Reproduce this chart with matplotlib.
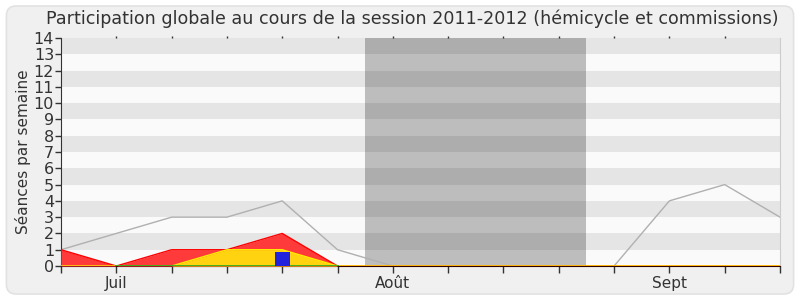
import matplotlib
matplotlib.use("Agg")
import matplotlib.pyplot as plt
from matplotlib.patches import FancyBboxPatch

weeks = list(range(14))
total = [1, 2, 3, 3, 4, 1, 0, 0, 0, 0, 0, 4, 5, 3]
red = [1, 0, 1, 1, 2, 0, 0, 0, 0, 0, 0, 0, 0, 0]
yellow = [0, 0, 0, 1, 1, 0, 0, 0, 0, 0, 0, 0, 0, 0]
green_x = [1, 2, 3, 4, 5]
green = [0, 0, 0, 0, 0]
blue_x = [4]
blue = [0.85]
vac_start, vac_end = 5.5, 9.5
xtick_pos = [1, 6, 11]
xtick_labels = ["Juil", "Août", "Sept"]
title = "Participation globale au cours de la session 2011-2012 (hémicycle et commissions)"
ylabel = "Séances par semaine"

plt.rcParams['font.family'] = ['DejaVu Sans']
fig = plt.figure(figsize=(8, 3), dpi=100)
fig.patch.set_facecolor('white')
bg = FancyBboxPatch((0.008, 0.02), 0.984, 0.96, boxstyle="round,pad=0,rounding_size=0.012",
                    transform=fig.transFigure, facecolor='#f0f0f0', edgecolor='#e2e2e2', lw=1.2,
                    mutation_aspect=8/3, zorder=-10)
fig.patches.append(bg)

ax = fig.add_axes([0.07625, 0.1133, 0.89875, 0.76])
ax.set_zorder(1)
ax.set_facecolor('#fafafa')
for k in range(1, 14, 2):
    ax.axhspan(k, k + 1, color='#e5e5e5', lw=0, zorder=0)
ax.axvspan(vac_start, vac_end, color='black', alpha=0.245, lw=0, zorder=1)

ax.plot(weeks, total, color='#b0b0b0', lw=1, zorder=2)
ax.fill_between(weeks, red, color='#ff3a3a', lw=0, zorder=3)
ax.plot(weeks, red, color='#ff0000', lw=1, zorder=3)
ax.fill_between(weeks, yellow, color='#ffd30f', lw=0, zorder=4)
ax.plot(weeks, yellow, color='#ffee00', lw=1, zorder=4)
ax.plot(green_x, green, color='#22aa22', lw=1.2, zorder=5)
ax.bar(blue_x, blue, width=0.27, color='#2222dd', zorder=6)

ax.set_xlim(0, 13)
ax.set_ylim(0, 14)
ax.set_yticks(range(15))
ax.set_xticks(weeks)
ax.set_xticklabels([xtick_labels[xtick_pos.index(w)] if w in xtick_pos else "" for w in weeks])
ax.tick_params(axis='y', direction='out', length=4, width=1, labelsize=11.5, colors='#333333', pad=1)
ax.tick_params(axis='x', which='major', direction='out', length=5, width=1, labelsize=11,
               colors='#333333', pad=2, top=False)
ax.spines['top'].set_visible(False)
ax.spines['right'].set_color('#cccccc')
ax.spines['left'].set_color('#333333')
ax.spines['bottom'].set_color('#330000')
ax.set_ylabel(ylabel, fontsize=11, color='#333333', labelpad=2)

# tiny top tick marks
sec = ax.secondary_xaxis('top')
sec.set_xticks(weeks[1:-1])
sec.set_xticklabels([])
sec.tick_params(direction='out', length=1.5, width=1, colors='#333333')
sec.spines['top'].set_visible(False)

fig.text(0.515, 0.937, title, ha='center', va='center', fontsize=12.6, color='#333333')

fig.savefig('out.png', dpi=100, facecolor=fig.get_facecolor())
